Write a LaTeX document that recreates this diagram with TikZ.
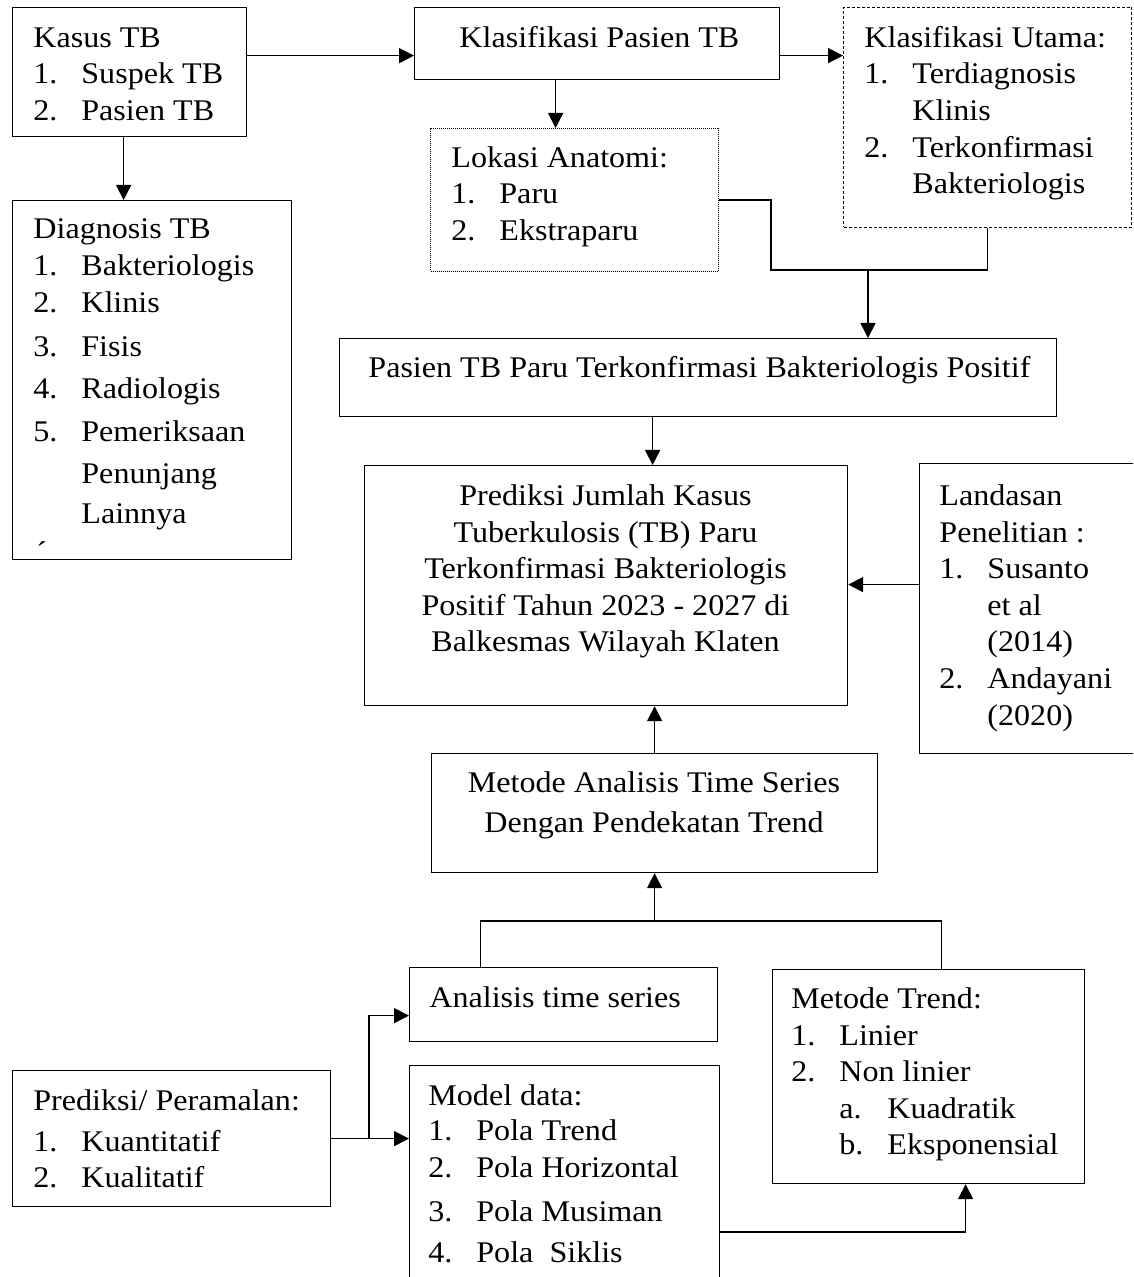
\documentclass[tikz,border=0pt]{standalone}
\usepackage{fontspec}
\setmainfont[FakeStretch=1.07]{Liberation Serif}
\usetikzlibrary{arrows.meta}
\newcommand{\nomor}[2]{\makebox[24pt][l]{#1}#2}
\newcommand{\tinggi}{\rule{0pt}{11pt}}

\begin{document}
\begin{tikzpicture}[x=0.5pt,y=-0.5pt,
    kotak/.style={draw, line width=0.6pt, inner sep=0pt, anchor=north west},
    isi/.style={inner sep=0pt, anchor=north west, align=left, font=\fontsize{15}{18.3}\selectfont},
    tengah/.style={isi, anchor=north, align=center},
    panah/.style={-{Triangle[length=7.5pt,width=7.5pt]}, line width=0.85pt},
    garis/.style={line width=0.85pt}]
  \useasboundingbox (0,0) rectangle (1133,1277);
  \clip (0,0) rectangle (1133,1277);

  % kotak
  \node[kotak, minimum width=117pt, minimum height=64.5pt] (kasus) at (12,7) {};
  \node[kotak, minimum width=182.5pt, minimum height=36pt] (klaspas) at (414,7) {};
  \node[kotak, minimum width=144pt, minimum height=110pt, line width=0.5pt, dash pattern=on 1.5pt off 1pt] (utama) at (843,7) {};
  \node[kotak, minimum width=144pt, minimum height=71.5pt, line width=0.5pt, dash pattern=on 0.5pt off 0.5pt] (lokasi) at (430,128) {};
  \node[kotak, minimum width=139.5pt, minimum height=179.5pt] (diag) at (12,200) {};
  \node[kotak, minimum width=358.5pt, minimum height=39pt] (pasien) at (339,338) {};
  \node[kotak, minimum width=241.5pt, minimum height=120pt] (prediksi) at (364,465) {};
  \node[kotak, minimum width=107.5pt, minimum height=145pt] (landasan) at (919,463) {};
  \node[kotak, minimum width=223pt, minimum height=59.5pt] (metode) at (431,753) {};
  \node[kotak, minimum width=154pt, minimum height=37pt] (analisis) at (409,967) {};
  \node[kotak, minimum width=156pt, minimum height=107pt] (trend) at (772,969) {};
  \node[kotak, minimum width=159pt, minimum height=68pt] (ramal) at (12,1070) {};
  \node[kotak, minimum width=155pt, minimum height=112.5pt] (model) at (409,1065) {};

  % teks
  \node[isi] (kasus-t) at (33,25) {\tinggi Kasus TB\\ \nomor{1.}{Suspek TB}\\ \nomor{2.}{Pasien TB}};
  \node[isi] (klaspas-t) at (459,25) {\tinggi Klasifikasi Pasien TB};
  \node[isi] (utama-t) at (864,25) {\tinggi Klasifikasi Utama:\\ \nomor{1.}{Terdiagnosis}\\ \nomor{}{Klinis}\\ \nomor{2.}{Terkonfirmasi}\\ \nomor{}{Bakteriologis}};
  \node[isi] (lokasi-t) at (451,145) {\tinggi Lokasi Anatomi:\\ \nomor{1.}{Paru}\\ \nomor{2.}{Ekstraparu}};
  \node[isi] (diag-t) at (33,216) {\tinggi Diagnosis TB\\[0.3pt] \nomor{1.}{Bakteriologis}\\[0.3pt] \nomor{2.}{Klinis}\\[3.7pt] \nomor{3.}{Fisis}\\[2.7pt] \nomor{4.}{Radiologis}\\[3.2pt] \nomor{5.}{Pemeriksaan}\\[2.7pt] \nomor{}{Penunjang}\\[1.7pt] \nomor{}{Lainnya}};
  \node[isi] (coret) at (36,541) {´};
  \node[isi] (pasien-t) at (368,355) {\tinggi Pasien TB Paru Terkonfirmasi Bakteriologis Positif};
  \node[tengah] (prediksi-t) at (605.5,483) {\tinggi Prediksi Jumlah Kasus\\ Tuberkulosis (TB) Paru\\ Terkonfirmasi Bakteriologis\\ Positif Tahun 2023 - 2027 di\\ Balkesmas Wilayah Klaten};
  \node[isi] (landasan-t) at (939,483) {\tinggi Landasan\\ Penelitian :\\ \nomor{1.}{Susanto}\\ \nomor{}{et al}\\ \nomor{}{(2014)}\\ \nomor{2.}{Andayani}\\ \nomor{}{(2020)}};
  \node[tengah] (metode-t) at (654,770) {\tinggi Metode Analisis Time Series\\[1.7pt] Dengan Pendekatan Trend};
  \node[isi] (analisis-t) at (429,985) {\tinggi Analisis time series};
  \node[isi] (trend-t) at (791,986) {\tinggi Metode Trend:\\ \nomor{1.}{Linier}\\ \nomor{2.}{Non linier}\\ \nomor{}{\nomor{a.}{Kuadratik}}\\ \nomor{}{\nomor{b.}{Eksponensial}}};
  \node[isi] (ramal-t) at (33,1088) {\tinggi Prediksi/ Peramalan:\\[2pt] \nomor{1.}{Kuantitatif}\\ \nomor{2.}{Kualitatif}};
  \node[isi] (model-t) at (428,1083) {\tinggi Model data:\\[-0.8pt] \nomor{1.}{Pola Trend}\\ \nomor{2.}{Pola Horizontal}\\[3.7pt] \nomor{3.}{Pola Musiman}\\[2.2pt] \nomor{4.}{Pola\ \ Siklis}};

  % panah
  \draw[panah] ([yshift=8.25pt]kasus.east) -- ([yshift=8.25pt]kasus.east -| klaspas.west);
  \draw[panah] ([yshift=-6pt]klaspas.east) -- ([yshift=-6pt]klaspas.east -| utama.west);
  \draw[panah] ([xshift=-3pt]kasus.south) -- ([xshift=-3pt]kasus.south |- diag.north);
  \draw[panah] ([xshift=-20.75pt]klaspas.south) -- ([xshift=-20.75pt]klaspas.south |- lokasi.north);
  \coordinate (gabung1) at (868,270);
  \draw[garis] (lokasi.east) -- ++(52,0) |- (gabung1) -- (gabung1 -| utama.south) -- (utama.south);
  \draw[panah] (gabung1) -- (gabung1 |- pasien.north);
  \draw[panah] ([xshift=-22.75pt]pasien.south) -- ([xshift=-22.75pt]pasien.south |- prediksi.north);
  \draw[panah] ([yshift=12pt]landasan.west) -- ([yshift=12pt]landasan.west -| prediksi.east);
  \draw[panah] (metode.north) -- (metode.north |- prediksi.south);
  \coordinate (gabung2) at ([yshift=-24pt]metode.south);
  \draw[panah] (gabung2) -- (metode.south);
  \draw[garis] ([xshift=-41.5pt]analisis.north) |- (gabung2) -| ([xshift=6.5pt]trend.north);
  \draw[panah] (ramal.east) -- (ramal.east -| model.west);
  \draw[panah] ([xshift=19pt]ramal.east) |- ([yshift=-5.5pt]analisis.west);
  \draw[panah] ([yshift=-27pt]model.east) -| ([xshift=18.5pt]trend.south);
\end{tikzpicture}
\end{document}
